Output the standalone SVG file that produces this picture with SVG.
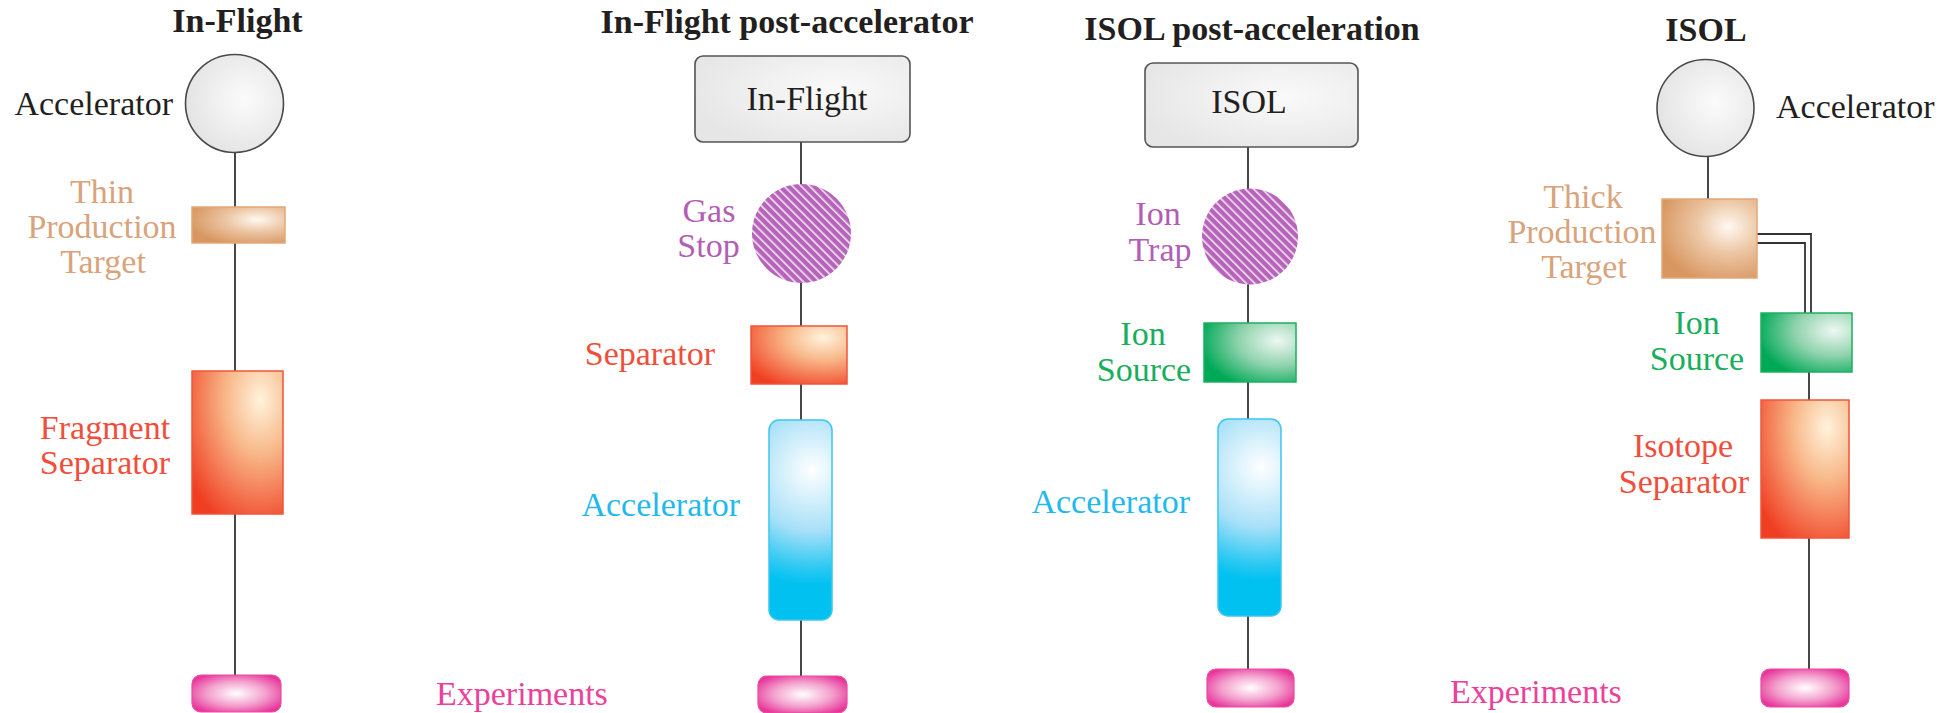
<svg xmlns="http://www.w3.org/2000/svg" width="1954" height="713" viewBox="0 0 1954 713">
<style>
text{font-family:"Liberation Serif","Times New Roman",serif;font-size:34px}
.title{font-weight:bold;fill:#231f20;text-anchor:middle}
.dark{fill:#231f20}
.tan{fill:#d9a37b}
.red{fill:#f04e3a}
.purple{fill:#b35db5}
.green{fill:#17ae5c}
.blue{fill:#1fb9ee}
.pink{fill:#ec4199}
.mid{text-anchor:middle}
.end{text-anchor:end}
.conn{stroke:#333;stroke-width:1.8;fill:none}
.gcirc{fill:url(#gGray);stroke:#4a4a4a;stroke-width:1.6}
.gbox{fill:url(#gGrayBox);stroke:#555;stroke-width:1.6}
.tanr{fill:url(#gTan);stroke:#e3a878;stroke-width:1.5}
.orng{fill:url(#gOrange);stroke:#f0553a;stroke-width:1.5}
.grn{fill:url(#gGreen);stroke:#1cb062;stroke-width:1.5}
.linac{stroke:#3cc6f0;stroke-width:1.5}
.exp{fill:url(#gPink);stroke:#ea4aa0;stroke-width:1.2}
.hatch{fill:url(#hatch)}
</style>
<defs>
<radialGradient id="gGray" cx="0.6" cy="0.45" r="0.6">
<stop offset="0" stop-color="#fbfbfb"/><stop offset="1" stop-color="#e4e4e4"/>
</radialGradient>
<radialGradient id="gGrayBox" cx="0.65" cy="0.4" r="0.7">
<stop offset="0" stop-color="#fafafa"/><stop offset="1" stop-color="#e6e6e6"/>
</radialGradient>
<radialGradient id="gTan" cx="0.7" cy="0.35" r="0.75">
<stop offset="0" stop-color="#fff9f2"/><stop offset="0.45" stop-color="#ecc6a4"/><stop offset="1" stop-color="#d89660"/>
</radialGradient>
<radialGradient id="gOrange" cx="0.75" cy="0.2" r="0.95">
<stop offset="0" stop-color="#fff3dc"/><stop offset="0.4" stop-color="#f8b889"/><stop offset="1" stop-color="#f03e22"/>
</radialGradient>
<radialGradient id="gGreen" cx="0.8" cy="0.3" r="0.85">
<stop offset="0" stop-color="#eef8f2"/><stop offset="0.5" stop-color="#8fd3ad"/><stop offset="1" stop-color="#00a956"/>
</radialGradient>
<radialGradient id="gBlue2" gradientUnits="userSpaceOnUse" cx="812" cy="470" r="160">
<stop offset="0" stop-color="#ffffff"/><stop offset="0.38" stop-color="#a8e0f8"/><stop offset="0.62" stop-color="#2ac8f2"/><stop offset="0.72" stop-color="#00c1f0"/><stop offset="1" stop-color="#00c1f0"/>
</radialGradient>
<radialGradient id="gBlue3" gradientUnits="userSpaceOnUse" cx="1261" cy="467" r="158">
<stop offset="0" stop-color="#ffffff"/><stop offset="0.38" stop-color="#a8e0f8"/><stop offset="0.62" stop-color="#2ac8f2"/><stop offset="0.72" stop-color="#00c1f0"/><stop offset="1" stop-color="#00c1f0"/>
</radialGradient>
<radialGradient id="gPink" cx="0.5" cy="0.5" r="0.6">
<stop offset="0" stop-color="#ffffff"/><stop offset="0.55" stop-color="#f3a0cd"/><stop offset="1" stop-color="#e8359a"/>
</radialGradient>
<pattern id="hatch" patternUnits="userSpaceOnUse" width="6" height="6" patternTransform="rotate(45)">
<rect width="6" height="6" fill="#b564b9"/>
<rect y="2.4" width="6" height="1.6" fill="#f4e4f4"/>
</pattern>
</defs>

<g id="connectors">
<line class="conn" x1="235" y1="152" x2="235" y2="675"/>
<line class="conn" x1="801" y1="142" x2="801" y2="676"/>
<line class="conn" x1="1248" y1="147" x2="1248" y2="669"/>
<line class="conn" x1="1708" y1="156" x2="1708" y2="199"/>
<path class="conn" d="M1757,234 H1811 V313"/>
<path class="conn" d="M1757,243 H1805 V313"/>
<line class="conn" x1="1809" y1="372" x2="1809" y2="669"/>
</g>

<g id="title-inflight"><text class="title" x="237.5" y="32">In-Flight</text></g>
<g id="title-inflight-post"><text class="title" x="787" y="33">In-Flight post-accelerator</text></g>
<g id="title-isol-post"><text class="title" x="1252" y="40">ISOL post-acceleration</text></g>
<g id="title-isol"><text class="title" x="1706" y="41">ISOL</text></g>

<!-- Panel 1 -->
<g id="p1-accelerator">
<circle class="gcirc" cx="234.5" cy="103.5" r="49"/>
<text class="dark end" x="173" y="115">Accelerator</text>
</g>
<g id="p1-thin-target">
<rect class="tanr" x="192" y="207" width="93" height="36"/>
<text class="tan mid" x="102" y="203">Thin</text>
<text class="tan mid" x="102" y="238">Production</text>
<text class="tan mid" x="103" y="273">Target</text>
</g>
<g id="p1-fragment-separator">
<rect class="orng" x="192" y="371" width="91" height="143"/>
<text class="red mid" x="105" y="439">Fragment</text>
<text class="red mid" x="105" y="474">Separator</text>
</g>
<g id="p1-experiments">
<rect class="exp" x="192" y="675" width="89" height="37" rx="9"/>
</g>

<!-- Panel 2 -->
<g id="p2-inflight">
<rect class="gbox" x="695" y="56" width="215" height="86" rx="8"/>
<text class="dark mid" x="807" y="110">In-Flight</text>
</g>
<g id="p2-gas-stop">
<circle class="hatch" cx="801.5" cy="233.5" r="49.5"/>
<text class="purple mid" x="709" y="222">Gas</text>
<text class="purple mid" x="708.5" y="257">Stop</text>
</g>
<g id="p2-separator">
<rect class="orng" x="751" y="326" width="96" height="58"/>
<text class="red end" x="715" y="365">Separator</text>
</g>
<g id="p2-accelerator">
<rect class="linac" fill="url(#gBlue2)" x="769" y="420" width="63" height="200" rx="10"/>
<text class="blue end" x="740" y="516">Accelerator</text>
</g>
<g id="p2-experiments">
<rect class="exp" x="758" y="676" width="89" height="37" rx="9"/>
<text class="pink" x="436" y="705">Experiments</text>
</g>

<!-- Panel 3 -->
<g id="p3-isol">
<rect class="gbox" x="1145" y="63" width="213" height="84" rx="8"/>
<text class="dark mid" x="1249" y="113">ISOL</text>
</g>
<g id="p3-ion-trap">
<circle class="hatch" cx="1250" cy="236.5" r="48"/>
<text class="purple mid" x="1158" y="225">Ion</text>
<text class="purple mid" x="1160" y="261">Trap</text>
</g>
<g id="p3-ion-source">
<rect class="grn" x="1204" y="323" width="92" height="59"/>
<text class="green mid" x="1143" y="345">Ion</text>
<text class="green mid" x="1144" y="381">Source</text>
</g>
<g id="p3-accelerator">
<rect class="linac" fill="url(#gBlue3)" x="1218" y="419" width="63" height="197" rx="10"/>
<text class="blue end" x="1190" y="513">Accelerator</text>
</g>
<g id="p3-experiments">
<rect class="exp" x="1207" y="669" width="87" height="38" rx="9"/>
</g>

<!-- Panel 4 -->
<g id="p4-accelerator">
<circle class="gcirc" cx="1705.5" cy="108" r="48.5"/>
<text class="dark" x="1776" y="118">Accelerator</text>
</g>
<g id="p4-thick-target">
<rect class="tanr" x="1662" y="199" width="95" height="79"/>
<text class="tan mid" x="1583" y="208">Thick</text>
<text class="tan mid" x="1582" y="243">Production</text>
<text class="tan mid" x="1584" y="278">Target</text>
</g>
<g id="p4-ion-source">
<rect class="grn" x="1761" y="313" width="91" height="59"/>
<text class="green mid" x="1697" y="334">Ion</text>
<text class="green mid" x="1697" y="370">Source</text>
</g>
<g id="p4-isotope-separator">
<rect class="orng" x="1761" y="400" width="88" height="138"/>
<text class="red mid" x="1683" y="457">Isotope</text>
<text class="red mid" x="1684" y="493">Separator</text>
</g>
<g id="p4-experiments">
<rect class="exp" x="1761" y="669" width="88" height="38" rx="9"/>
<text class="pink" x="1450" y="703">Experiments</text>
</g>
</svg>
